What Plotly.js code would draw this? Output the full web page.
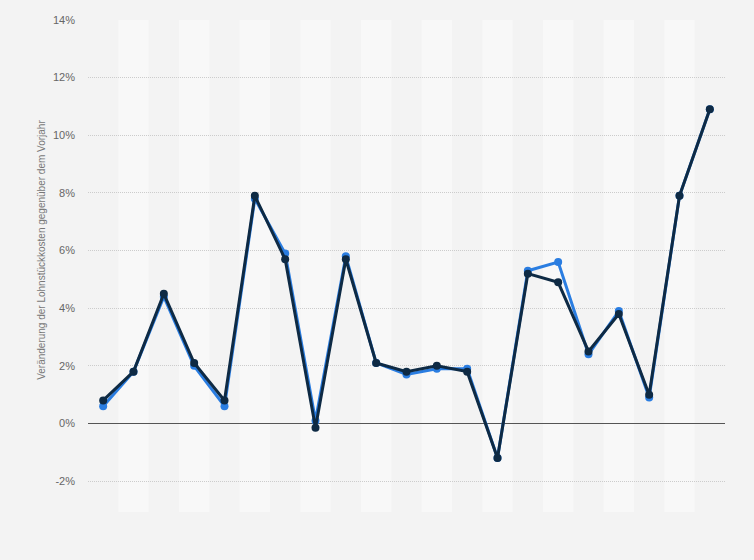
<!DOCTYPE html>
<html>
<head>
<meta charset="utf-8">
<script src="https://cdn.plot.ly/plotly-3.0.1.min.js"></script>
<style>html,body{margin:0;padding:0;background:#f3f3f3;}#chart{width:754px;height:560px;}</style>
</head>
<body>
<div id="chart"></div>
<script>
// Categories (x-axis labels are not shown in the reference)
var categories = [1,2,3,4,5,6,7,8,9,10,11,12,13,14,15,16,17,18,19,20,21];
// Series values (% change vs previous year)
var seriesBlue = [0.6, 1.8, 4.4, 2.0, 0.6, 7.8, 5.9, 0.1, 5.8, 2.1, 1.7, 1.9, 1.9, -1.2, 5.3, 5.6, 2.4, 3.9, 0.9, 7.9, 10.9];
var seriesNavy = [0.8, 1.8, 4.5, 2.1, 0.8, 7.9, 5.7, -0.15, 5.7, 2.1, 1.8, 2.0, 1.8, -1.2, 5.2, 4.9, 2.5, 3.8, 1.0, 7.9, 10.9];
var tickVals = [-2, 0, 2, 4, 6, 8, 10, 12, 14];
var tickLabels = ['-2%', '0%', '2%', '4%', '6%', '8%', '10%', '12%', '14%'];
var yTitle = 'Veränderung der Lohnstückkosten gegenüber dem Vorjahr';

var xIdx = categories.map(function(c, i){ return i; });

var shapes = [];
categories.forEach(function(c, i){
  if (i % 2 === 1) {
    shapes.push({type:'rect', xref:'x', yref:'paper', x0:i-0.5, x1:i+0.5, y0:0, y1:1,
      fillcolor:'#f8f8f8', line:{width:0}, layer:'below'});
  }
});

var traces = [
  {x:xIdx, y:seriesBlue, type:'scatter', mode:'lines+markers',
   line:{color:'#2a7de1', width:3}, marker:{color:'#2a7de1', size:8}, hoverinfo:'y'},
  {x:xIdx, y:seriesNavy, type:'scatter', mode:'lines+markers',
   line:{color:'#0e2a44', width:3}, marker:{color:'#0e2a44', size:8}, hoverinfo:'y'}
];

var layout = {
  width:754, height:560,
  margin:{l:88, r:29, t:20, b:48},
  paper_bgcolor:'#f3f3f3', plot_bgcolor:'#f3f3f3',
  showlegend:false,
  font:{family:'Arial, Liberation Sans, sans-serif', color:'#666', size:11},
  xaxis:{range:[-0.5, categories.length-0.5], showticklabels:false, showgrid:false,
    zeroline:false, showline:false, ticks:'', fixedrange:true},
  yaxis:{range:[-3.07, 14], tickvals:tickVals, ticktext:tickLabels,
    showgrid:true, gridcolor:'#cccccc', griddash:'1px,1px', gridwidth:1,
    zeroline:true, zerolinecolor:'#555', zerolinewidth:1.5,
    showline:false, ticks:'', ticklabelstandoff:12,
    tickfont:{size:11, color:'#666'}, fixedrange:true},
  shapes:shapes,
  annotations:[{text:yTitle, xref:'paper', yref:'paper', x:-0.074, y:0.5325,
    xanchor:'center', yanchor:'middle', textangle:-90, showarrow:false,
    font:{size:10, color:'#777'}}]
};

Plotly.newPlot('chart', traces, layout, {displayModeBar:false, staticPlot:true});
</script>
</body>
</html>
